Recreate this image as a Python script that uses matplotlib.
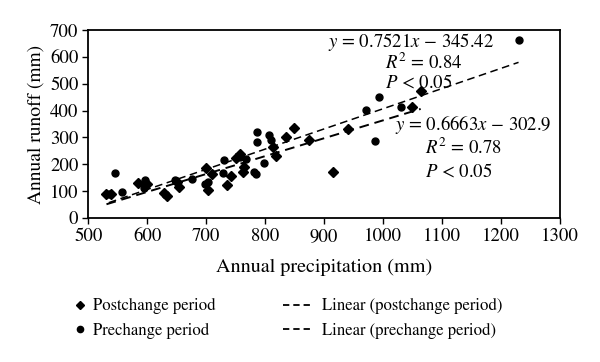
import numpy as np
import matplotlib
matplotlib.use("Agg")
import matplotlib.pyplot as plt
from matplotlib.lines import Line2D

plt.rcParams['font.family'] = ['STIXGeneral', 'DejaVu Serif']
plt.rcParams['mathtext.fontset'] = 'stix'

# postchange period (diamonds)
post_x = [531, 538, 584, 600, 628, 634, 651, 654, 700, 704, 710, 735, 742, 751,
          757, 762, 764, 813, 819, 836, 849, 875, 916, 940, 1050, 1064]
post_y = [88, 88, 129, 125, 92, 82, 135, 117, 185, 104, 165, 123, 157, 225,
          240, 170, 190, 263, 231, 300, 335, 289, 172, 333, 412, 473]

# prechange period (dots)
pre_x = [535, 546, 558, 595, 597, 648, 676, 698, 703, 728, 731, 757, 767, 782,
         784, 786, 787, 798, 807, 810, 972, 986, 994, 1031, 1230]
pre_y = [90, 166, 98, 110, 141, 143, 146, 128, 135, 166, 215, 228, 218, 171,
         162, 283, 319, 205, 310, 290, 403, 285, 450, 413, 664]

# trendline coefficients as printed on the chart
post_fit = (0.6663, -302.9)
pre_fit = (0.7521, -345.42)

fig = plt.figure(figsize=(6, 3.62), dpi=100)
ax = fig.add_axes([0.147, 0.398, 0.786, 0.519])

ax.plot(post_x, post_y, 'D', color='black', ms=4.6, ls='none')
ax.plot(pre_x, pre_y, 'o', color='black', ms=5, ls='none')

xs = np.array([min(post_x), max(post_x)])
ax.plot(xs, post_fit[0] * xs + post_fit[1], color='black', ls=(0, (5, 3)), lw=1.4)
xs = np.array([min(pre_x), max(pre_x)])
ax.plot(xs, pre_fit[0] * xs + pre_fit[1], color='black', ls=(0, (5, 3)), lw=1.1)

ax.set_xlim(500, 1300)
ax.set_ylim(0, 700)
ax.set_xticks(range(500, 1301, 100))
ax.set_yticks(range(0, 701, 100))
ax.tick_params(labelsize=13.5, length=4, width=1, direction='out', pad=3)
for s in ax.spines.values():
    s.set_linewidth(1.3)
ax.set_xlabel('Annual precipitation (mm)', fontsize=14.5, labelpad=10)
ax.set_ylabel('Annual runoff (mm)', fontsize=14, labelpad=4)

eq = dict(transform=ax.transAxes, fontsize=13.5, va='center')
ax.text(0.508, 0.937, r'$y$ = 0.7521$x$ − 345.42', **eq)
ax.text(0.630, 0.828, r'$R^2$ = 0.84', **eq)
ax.text(0.630, 0.722, r'$P$ < 0.05', **eq)
ax.text(0.65, 0.495, r'$y$ = 0.6663$x$ − 302.9', **eq)
ax.text(0.715, 0.373, r'$R^2$ = 0.78', **eq)
ax.text(0.715, 0.245, r'$P$ < 0.05', **eq)

pts = [Line2D([], [], marker='D', color='black', ls='none', ms=4),
       Line2D([], [], marker='o', color='black', ls='none', ms=4.5)]
lns = [Line2D([], [], color='black', ls=(0, (3.5, 2.2)), lw=1.3),
       Line2D([], [], color='black', ls=(0, (3.5, 2.2)), lw=1.3)]
fig.legend(pts, ['Postchange period', 'Prechange period'], loc='center left',
           bbox_to_anchor=(0.12, 0.12), frameon=False, fontsize=12,
           handlelength=1.0, handletextpad=0.25, labelspacing=0.5,
           borderpad=0, borderaxespad=0)
fig.legend(lns, ['Linear (postchange period)', 'Linear (prechange period)'],
           loc='center left', bbox_to_anchor=(0.472, 0.12), frameon=False,
           fontsize=12, handlelength=1.75, handletextpad=0.6, labelspacing=0.5,
           borderpad=0, borderaxespad=0)

fig.savefig('out.png', dpi=100)
